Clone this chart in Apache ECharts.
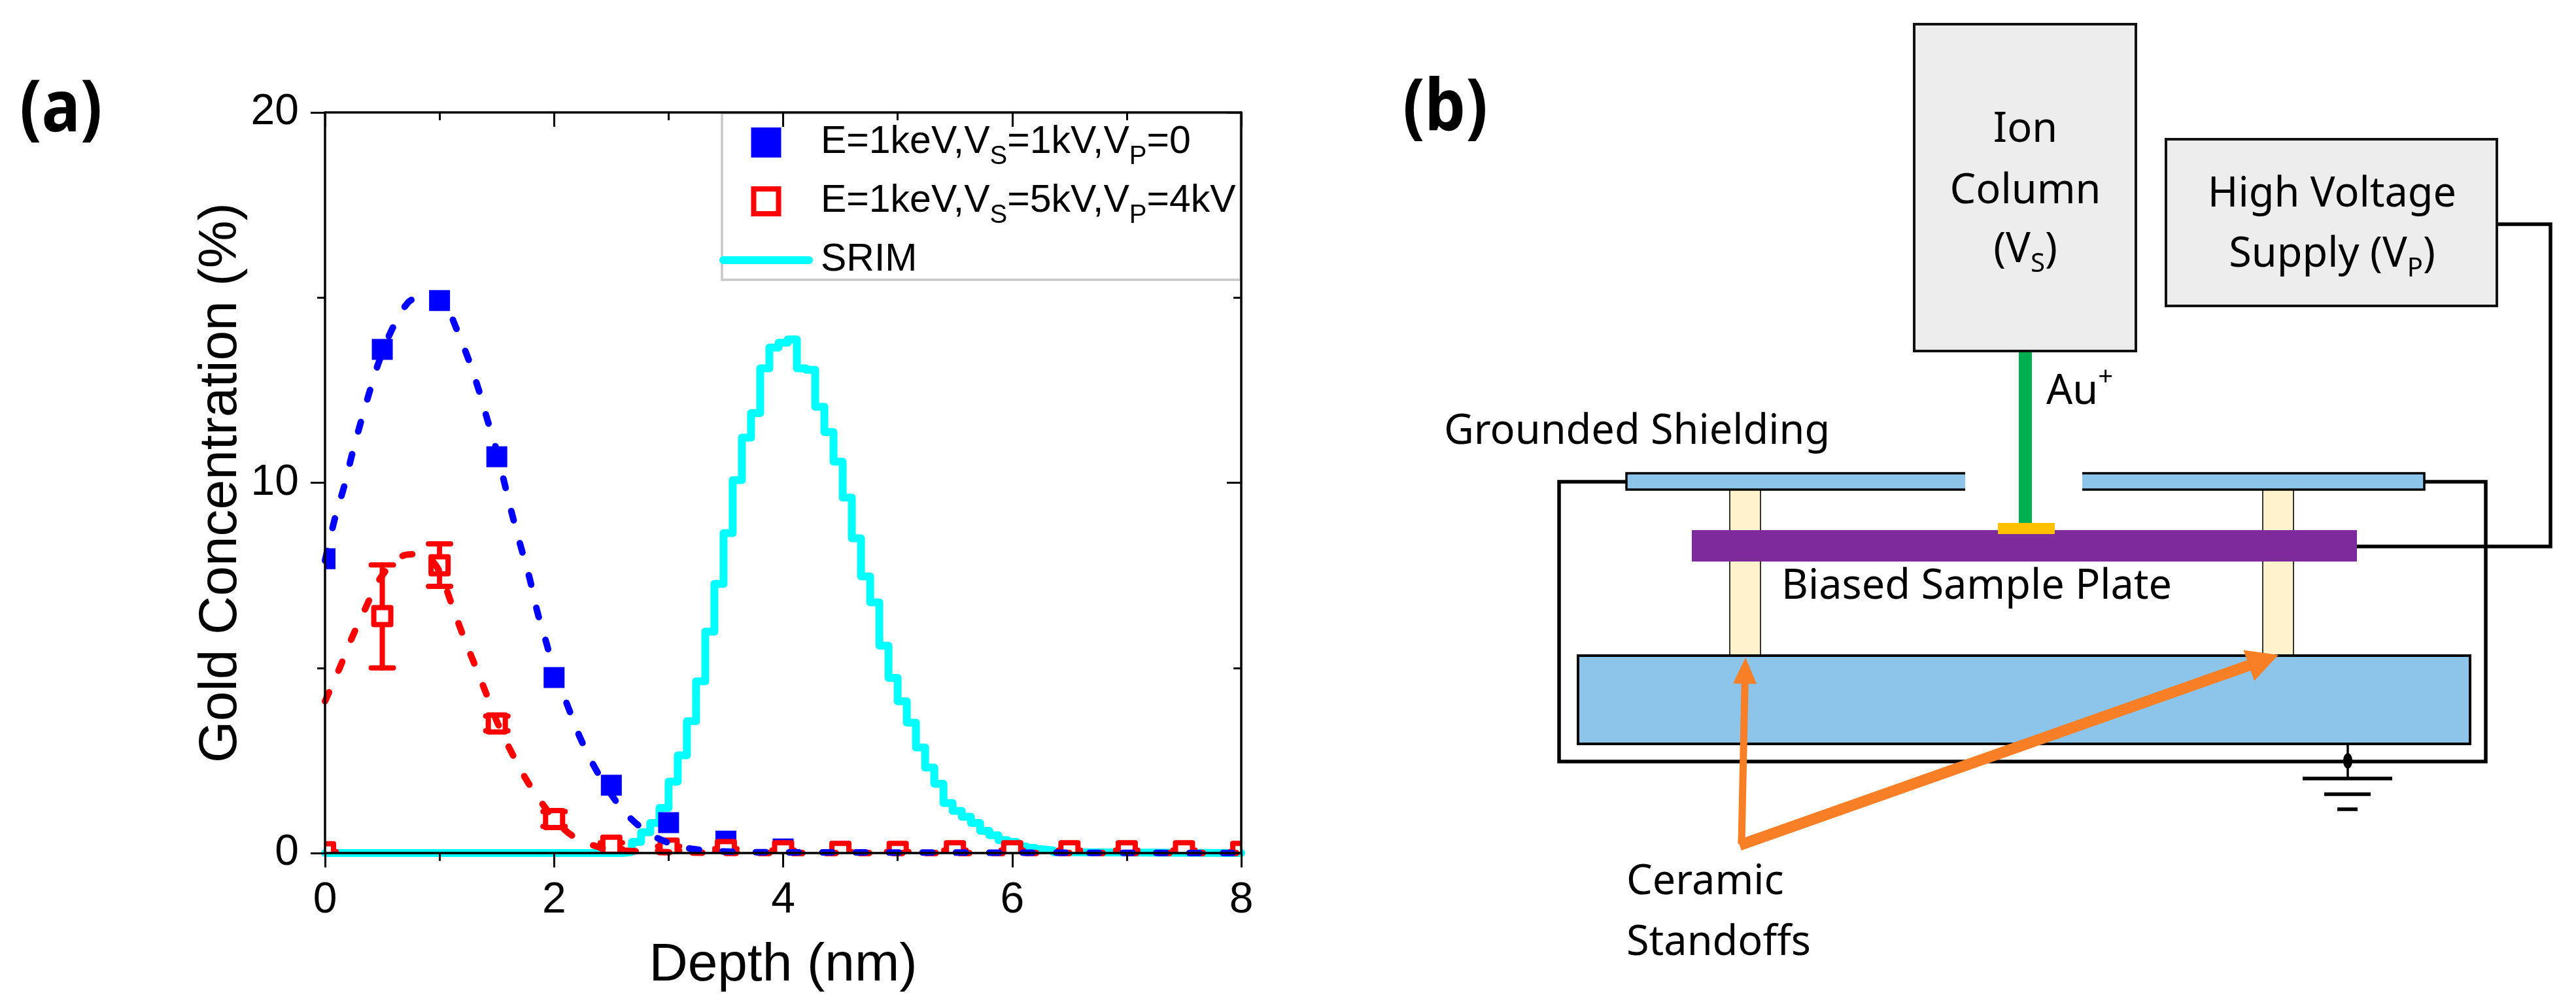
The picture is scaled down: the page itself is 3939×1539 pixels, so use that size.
<!DOCTYPE html>
<html>
<head>
<meta charset="utf-8">
<script src="https://cdn.jsdelivr.net/npm/echarts@6/dist/echarts.min.js"></script>
<style>html,body{margin:0;padding:0;background:#fff}#c{width:3939px;height:1539px}</style>
</head>
<body>
<div id="c"></div>
<script>
const xTicksMax = 8, yTicksMax = 20;
const nameBlue = 'E=1keV,VS=1kV,VP=0';
const nameRed = 'E=1keV,VS=5kV,VP=4kV';
const nameSrim = 'SRIM';

const depth = [0,0.5,1,1.5,2,2.5,3,3.5,4,4.5,5,5.5,6,6.5,7,7.5,8];
const blueConc = [7.95,13.6,14.92,10.7,4.74,1.83,0.82,0.32,0.11,0.04,0.03,0.03,0.02,0.03,0.02,0.02,0.03];
const redConc = [0.02,6.4,7.77,3.5,0.92,0.2,0.12,0.08,0.05,0.03,0.03,0.05,0.05,0.05,0.05,0.05,0.03];
const redErrLow = [0.02,5.0,7.2,3.3,0.72,0.12,0.06,0.04,0.02,0.02,0.02,0.02,0.02,0.02,0.02,0.02,0.02];
const redErrHigh = [0.04,7.78,8.35,3.7,1.12,0.28,0.18,0.12,0.08,0.04,0.04,0.08,0.08,0.08,0.08,0.08,0.04];

const blueFitX = [0,0.087,0.166,0.234,0.309,0.389,0.463,0.583,0.726,0.85,0.95,1.05,1.137,1.246,1.337,1.417,1.5,1.566,1.635,1.71,1.788,1.856,1.936,2,2.108,2.22,2.34,2.49,2.65,2.85,3.09,3.3,3.6,4,8];
const blueFitY = [7.9,9.05,9.89,10.74,11.6,12.46,13.2,14.13,14.87,15.05,15.1,14.85,14.24,13.39,12.56,11.71,10.85,10.0,9.13,8.27,7.4,6.49,5.64,4.9,4.06,3.17,2.4,1.62,0.99,0.49,0.18,0.08,0.03,0.02,0];
const redFitX = [0,0.128,0.24,0.356,0.468,0.58,0.69,0.79,0.9,1,1.108,1.208,1.308,1.408,1.508,1.648,1.788,2,2.168,2.37,2.6,3,4,8];
const redFitY = [4.1,5.0,5.85,6.63,7.35,7.8,8.04,8.07,8.0,7.6,6.7,5.85,5.08,4.3,3.5,2.6,1.83,0.92,0.45,0.18,0.07,0.02,0,0];

const srimX = [0,2.52,2.6,2.68,2.76,2.84,2.92,3,3.08,3.16,3.24,3.32,3.4,3.48,3.56,3.64,3.72,3.8,3.88,3.96,4.04,4.12,4.2,4.28,4.36,4.44,4.52,4.6,4.68,4.76,4.84,4.92,5,5.08,5.16,5.24,5.32,5.4,5.48,5.56,5.64,5.72,5.8,5.88,5.96,6.04,6.12,6.2,6.28,6.36,6.44,8];
const srimY = [0,0,0.03,0.3,0.56,0.81,1.22,1.93,2.64,3.56,4.64,5.98,7.27,8.64,10.07,11.22,11.88,13.09,13.65,13.78,13.87,13.09,13.05,12.05,11.37,10.57,9.6,8.5,7.47,6.77,5.6,4.73,4.1,3.52,2.85,2.31,1.87,1.35,1.14,0.98,0.81,0.6,0.48,0.35,0.3,0.18,0.14,0.1,0.07,0.02,0,0];

const ARIAL = 'Liberation Sans', SANS = 'Noto Sans';
const BLACK = '#000', BLUE = '#0000ff', RED = '#ff0000', CYAN = '#00ffff';
const LIGHT = '#8dc4ea', GREY = '#ededed', CREAM = '#fff2cc', PURPLE = '#7c2a9c', ORANGE = '#f97f27';

function zip(a, b) { return a.map((v, i) => [v, b[i]]); }

function rect(x0, y0, x1, y1, fill, stroke, lw) {
  return {type:'rect', silent:true, shape:{x:x0,y:y0,width:x1-x0,height:y1-y0},
    style:{fill:fill||'none', stroke:stroke||'none', lineWidth:lw||0}};
}
function line(points, lw, color) {
  return {type:'polyline', silent:true, shape:{points}, style:{stroke:color||BLACK, lineWidth:lw, fill:'none', lineJoin:'miter'}};
}
function label(x, y, text, opt) {
  opt = opt || {};
  const fs = opt.size || 63;
  return {type:'text', silent:true, x, y, z:5, scaleX:opt.sx||1, style:{
    text, align:opt.align||'center', verticalAlign:'middle',
    fontFamily:opt.family||SANS, fontSize:fs, fontWeight:opt.weight||'normal', fill:BLACK,
    rich:{
      a:{fontFamily:SANS, fontSize:fs, lineHeight:84, fill:BLACK},
      s:{fontFamily:SANS, fontSize:40, lineHeight:40, verticalAlign:'bottom', fill:BLACK},
      u:{fontFamily:SANS, fontSize:40, lineHeight:44, verticalAlign:'top', fill:BLACK}
    }
  }};
}
function arrow(x0, y0, x1, y1, w, headLen, headHalf) {
  const L = Math.hypot(x1-x0, y1-y0), ux = (x1-x0)/L, uy = (y1-y0)/L, nx = -uy, ny = ux;
  const bx = x1-ux*headLen, by = y1-uy*headLen;
  return {type:'polygon', silent:true, z:4, shape:{points:[
    [x0+nx*w/2,y0+ny*w/2],[bx+nx*w/2,by+ny*w/2],[bx+nx*headHalf,by+ny*headHalf],[x1,y1],
    [bx-nx*headHalf,by-ny*headHalf],[bx-nx*w/2,by-ny*w/2],[x0-nx*w/2,y0-ny*w/2]]},
    style:{fill:ORANGE}};
}

const schematic = [
  // legend frame of panel (a)
  rect(1104,173,1897,428,'#fff','#c8c8c8',3.5),
  label(30,170,'(a)',{align:'left',weight:'bold',size:110,sx:0.9}),
  label(2145,168,'(b)',{align:'left',weight:'bold',size:110,sx:0.9}),
  // enclosure
  line([[2487,737],[2384,737],[2384,1165],[3801,1165],[3801,737],[3707,737]],5.5),
  // wire from supply to plate
  line([[3818,343],[3900,343],[3900,836],[3604,836]],5.5),
  // standoffs
  rect(2645,749,2692,1003,CREAM,'#333',2),
  rect(3460,749,3507,1003,CREAM,'#333',2),
  // shields
  rect(2487,724,3005,749,LIGHT,null,0),
  line([[3005,724],[2487,724],[2487,749],[3005,749]],3.5),
  rect(3184,724,3707,749,LIGHT,null,0),
  line([[3184,724],[3707,724],[3707,749],[3184,749]],3.5),
  // base
  rect(2413,1003,3777,1138,LIGHT,BLACK,4),
  // beam, plate, sample
  rect(3087,537,3107,803,'#00b050'),
  rect(2587,811,3604,859,PURPLE),
  rect(3055,800,3142,817,'#ffc000'),
  // boxes
  rect(2927,37,3266,537,GREY,'#111',4),
  rect(3312,213,3818,468,GREY,'#111',4),
  // ground
  line([[3590,1138],[3590,1191]],3.5),
  {type:'ellipse',silent:true,shape:{cx:3590,cy:1164,rx:7,ry:12},style:{fill:BLACK}},
  line([[3521,1191],[3658,1191]],5.5),
  line([[3554,1215],[3625,1215]],5.5),
  line([[3574,1238],[3605,1238]],5.5),
  // arrows
  arrow(2663,1291,2669,1006,11,40,18),
  arrow(2660,1293,3484,1002,17,48,25),
  // text
  label(3097,199,'Ion'),
  label(3097,293,'Column'),
  label(3097,383,'{a|(V}{s|S}{a|)}'),
  label(3566,298,'High Voltage'),
  label(3566,390,'{a|Supply (V}{s|P}{a|)}'),
  label(3129,600,'{a|Au}{u|+}',{align:'left'}),
  label(2208,661,'Grounded Shielding',{align:'left'}),
  label(2724,898,'Biased Sample Plate',{align:'left'}),
  label(2487,1350,'Ceramic',{align:'left'}),
  label(2487,1443,'Standoffs',{align:'left'})
];

function renderBlue(params, api) {
  const p = api.coord([api.value(0), api.value(1)]);
  return {type:'rect', shape:{x:p[0]-16,y:p[1]-16,width:32,height:32}, style:{fill:BLUE}};
}
function renderRed(params, api) {
  const x = api.value(0);
  const p = api.coord([x, api.value(1)]);
  const lo = api.coord([x, api.value(2)]);
  const hi = api.coord([x, api.value(3)]);
  const err = {stroke:RED, lineWidth:8, lineCap:'round'};
  return {type:'group', children:[
    {type:'line', shape:{x1:p[0],y1:lo[1],x2:p[0],y2:hi[1]}, style:err},
    {type:'line', shape:{x1:p[0]-17,y1:lo[1],x2:p[0]+17,y2:lo[1]}, style:err},
    {type:'line', shape:{x1:p[0]-17,y1:hi[1],x2:p[0]+17,y2:hi[1]}, style:err},
    {type:'rect', shape:{x:p[0]-13,y:p[1]-13,width:26,height:26},
      style:{fill:'#fff',stroke:RED,lineWidth:8,lineJoin:'round'}}
  ]};
}
function legendName(n) {
  if (n === nameBlue) return 'E=1keV,V{s|S}=1kV,V{s|P}=0';
  if (n === nameRed) return 'E=1keV,V{s|S}=5kV,V{s|P}=4kV';
  return n;
}

const axisBase = {type:'value', z:10, axisLine:{show:true,onZero:false,lineStyle:{color:BLACK,width:3.5}}, splitLine:{show:false}, minorSplitLine:{show:false}};
const outer = {axisTick:{show:true,inside:false,length:22,lineStyle:{color:BLACK,width:3}},
  minorTick:{show:true,splitNumber:2,length:12,lineStyle:{color:BLACK,width:3}}};
const inner = {axisLabel:{show:false}, axisTick:{show:true,inside:true,length:22,lineStyle:{color:BLACK,width:3}},
  minorTick:{show:true,splitNumber:2,length:12,lineStyle:{color:BLACK,width:3}}};
const tickFont = {fontFamily:ARIAL,fontSize:66,color:BLACK};
const nameFont = {fontFamily:ARIAL,fontSize:82,color:BLACK};

const option = {
  animation:false,
  backgroundColor:'#fff',
  graphic:{elements:schematic},
  grid:{left:497,top:172,width:1401,height:1133,containLabel:false},
  xAxis:[
    Object.assign({},axisBase,outer,{position:'bottom',min:0,max:xTicksMax,interval:2,
      name:'Depth (nm)',nameLocation:'middle',nameGap:131,nameTextStyle:nameFont,
      axisLabel:Object.assign({margin:40},tickFont)}),
    Object.assign({},axisBase,inner,{position:'top',min:0,max:xTicksMax,interval:2})
  ],
  yAxis:[
    Object.assign({},axisBase,outer,{position:'left',min:0,max:yTicksMax,interval:10,
      name:'Gold Concentration (%)',nameLocation:'middle',nameGap:118,nameTextStyle:nameFont,
      axisLabel:Object.assign({margin:40},tickFont)}),
    Object.assign({},axisBase,inner,{position:'right',min:0,max:yTicksMax,interval:10})
  ],
  legend:{
    orient:'vertical',left:1100,top:176,padding:0,itemGap:6,itemWidth:143,itemHeight:46,
    selectedMode:false,
    formatter:legendName,
    textStyle:{fontFamily:ARIAL,fontSize:59,lineHeight:84,color:BLACK,padding:[0,0,0,7],
      rich:{s:{fontFamily:ARIAL,fontSize:40,lineHeight:42,verticalAlign:'bottom',color:BLACK}}},
    data:[
      {name:nameBlue,icon:'path://M0 0H46V46H0Z',itemStyle:{color:BLUE,borderWidth:0}},
      {name:nameRed,icon:'path://M0 0H46V46H0ZM8 8V38H38V8Z',itemStyle:{color:RED,borderWidth:0}},
      {name:nameSrim,icon:'path://M6 0H137A6 6 0 0 1 137 12H6A6 6 0 0 1 6 0Z',itemStyle:{color:CYAN,borderWidth:0}}
    ]
  },
  series:[
    {name:nameSrim,type:'line',step:'end',data:zip(srimX,srimY),showSymbol:false,symbol:'none',clip:true,z:2,
      lineStyle:{color:CYAN,width:12,join:'round',cap:'round'},itemStyle:{color:CYAN}},
    {name:nameBlue,type:'custom',renderItem:renderBlue,data:zip(depth,blueConc),encode:{x:0,y:1},clip:true,z:3,itemStyle:{color:BLUE}},
    {name:nameRed,type:'custom',renderItem:renderRed,data:depth.map((d,i)=>[d,redConc[i],redErrLow[i],redErrHigh[i]]),encode:{x:0,y:1},clip:true,z:4,itemStyle:{color:RED}},
    {name:'Red fit',type:'line',data:zip(redFitX,redFitY),smooth:0.3,showSymbol:false,symbol:'none',clip:true,z:5,
      lineStyle:{color:RED,width:10,type:[15,36],cap:'round'}},
    {name:'Blue fit',type:'line',data:zip(blueFitX,blueFitY),smooth:0.3,showSymbol:false,symbol:'none',clip:true,z:5,
      lineStyle:{color:BLUE,width:10,type:[15,36],cap:'round'}}
  ]
};
echarts.init(document.getElementById('c')).setOption(option);
</script>
</body>
</html>
